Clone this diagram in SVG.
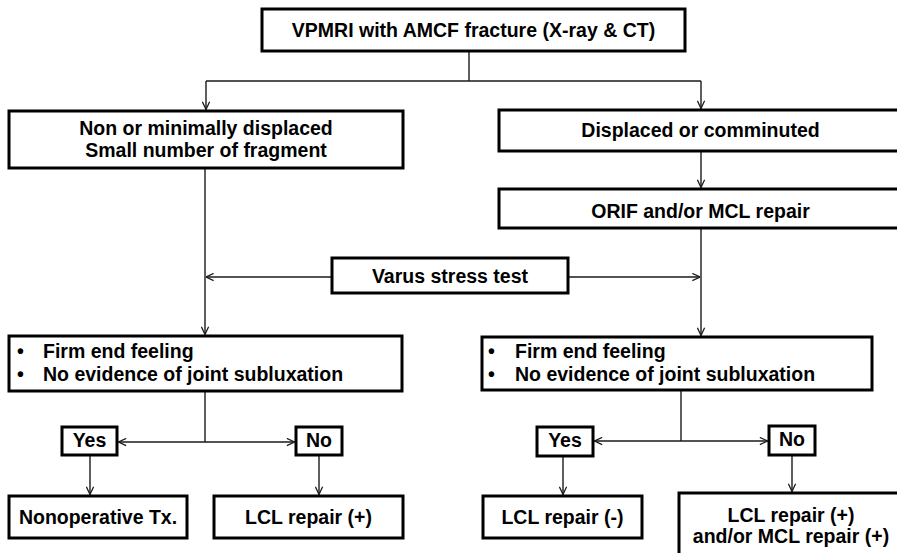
<svg xmlns="http://www.w3.org/2000/svg" width="897" height="553" viewBox="0 0 897 553">
  <style>
    .box { fill: #ffffff; stroke: #000000; stroke-width: 3; }
    .t { font-family: "Liberation Sans", Arial, sans-serif; font-weight: bold; font-size: 19.5px; fill: #000000; }
    .c { text-anchor: middle; }
    .ln { fill: none; stroke: #1a1a1a; stroke-width: 1.4; }
  </style>
  <defs>
    <marker id="arr" viewBox="0 0 10 10" refX="9.5" refY="5" markerWidth="9" markerHeight="9" markerUnits="userSpaceOnUse" orient="auto">
      <path d="M1,1 L9.5,5 L1,9" fill="none" stroke="#1a1a1a" stroke-width="1.4"/>
    </marker>
  </defs>
  <rect x="0" y="0" width="897" height="553" fill="#ffffff"/>

  <g id="connectors">
    <path class="ln" d="M469,51 V81"/>
    <path class="ln" d="M206,81 H701"/>
    <path class="ln" d="M206,81 V109.5" marker-end="url(#arr)"/>
    <path class="ln" d="M701,81 V108.5" marker-end="url(#arr)"/>
    <path class="ln" d="M701,151 V187.5" marker-end="url(#arr)"/>
    <path class="ln" d="M205,168 V334.5" marker-end="url(#arr)"/>
    <path class="ln" d="M701,228 V335.5" marker-end="url(#arr)"/>
    <path class="ln" d="M332,277 H206" marker-end="url(#arr)"/>
    <path class="ln" d="M568,277 H700" marker-end="url(#arr)"/>
    <path class="ln" d="M205,391 V442"/>
    <path class="ln" d="M205,442 H118.5" marker-end="url(#arr)"/>
    <path class="ln" d="M205,442 H294.5" marker-end="url(#arr)"/>
    <path class="ln" d="M90,455 V494.5" marker-end="url(#arr)"/>
    <path class="ln" d="M319,455 V494.5" marker-end="url(#arr)"/>
    <path class="ln" d="M681,390 V441"/>
    <path class="ln" d="M681,441 H594.5" marker-end="url(#arr)"/>
    <path class="ln" d="M681,441 H767.5" marker-end="url(#arr)"/>
    <path class="ln" d="M563,456 V494.5" marker-end="url(#arr)"/>
    <path class="ln" d="M792,455 V491.5" marker-end="url(#arr)"/>
  </g>

  <g id="n-top">
    <rect class="box" x="262" y="9" width="423" height="42"/>
    <text class="t c" x="473.5" y="37">VPMRI with AMCF fracture (X-ray &amp; CT)</text>
  </g>
  <g id="n-minimal">
    <rect class="box" x="9" y="111" width="394" height="57"/>
    <text class="t c" x="206" y="135">Non or minimally displaced</text>
    <text class="t c" x="206" y="157">Small number of fragment</text>
  </g>
  <g id="n-displaced">
    <rect class="box" x="499" y="110" width="404" height="41"/>
    <text class="t c" x="700.5" y="137">Displaced or comminuted</text>
  </g>
  <g id="n-orif">
    <rect class="box" x="499" y="189" width="404" height="39"/>
    <text class="t c" x="700.5" y="218">ORIF and/or MCL repair</text>
  </g>
  <g id="n-varus">
    <rect class="box" x="332" y="258" width="236" height="35"/>
    <text class="t c" x="450" y="283">Varus stress test</text>
  </g>
  <g id="n-firm-left">
    <rect class="box" x="9" y="336" width="393" height="55"/>
    <text class="t" x="17" y="358">•</text>
    <text class="t" x="43" y="358">Firm end feeling</text>
    <text class="t" x="17" y="381">•</text>
    <text class="t" x="43" y="381">No evidence of joint subluxation</text>
  </g>
  <g id="n-firm-right">
    <rect class="box" x="482" y="337" width="390" height="53"/>
    <text class="t" x="488" y="358">•</text>
    <text class="t" x="515" y="358">Firm end feeling</text>
    <text class="t" x="488" y="381">•</text>
    <text class="t" x="515" y="381">No evidence of joint subluxation</text>
  </g>
  <g id="n-yes-left">
    <rect class="box" x="62" y="427" width="55" height="28"/>
    <text class="t c" x="89.5" y="447">Yes</text>
  </g>
  <g id="n-no-left">
    <rect class="box" x="296" y="427" width="46" height="28"/>
    <text class="t c" x="319" y="447">No</text>
  </g>
  <g id="n-yes-right">
    <rect class="box" x="537" y="427" width="56" height="29"/>
    <text class="t c" x="565" y="447">Yes</text>
  </g>
  <g id="n-no-right">
    <rect class="box" x="769" y="426" width="46" height="29"/>
    <text class="t c" x="792" y="446">No</text>
  </g>
  <g id="n-nonop">
    <rect class="box" x="9" y="496" width="178" height="42"/>
    <text class="t c" x="98" y="524">Nonoperative Tx.</text>
  </g>
  <g id="n-lcl-plus">
    <rect class="box" x="214" y="496" width="189" height="42"/>
    <text class="t c" x="308.5" y="524">LCL repair (+)</text>
  </g>
  <g id="n-lcl-minus">
    <rect class="box" x="483" y="496" width="159" height="42"/>
    <text class="t c" x="562.5" y="524">LCL repair (-)</text>
  </g>
  <g id="n-lcl-mcl">
    <rect class="box" x="679" y="493" width="224" height="70"/>
    <text class="t c" x="791" y="522">LCL repair (+)</text>
    <text class="t c" x="791" y="543">and/or MCL repair (+)</text>
  </g>
</svg>
